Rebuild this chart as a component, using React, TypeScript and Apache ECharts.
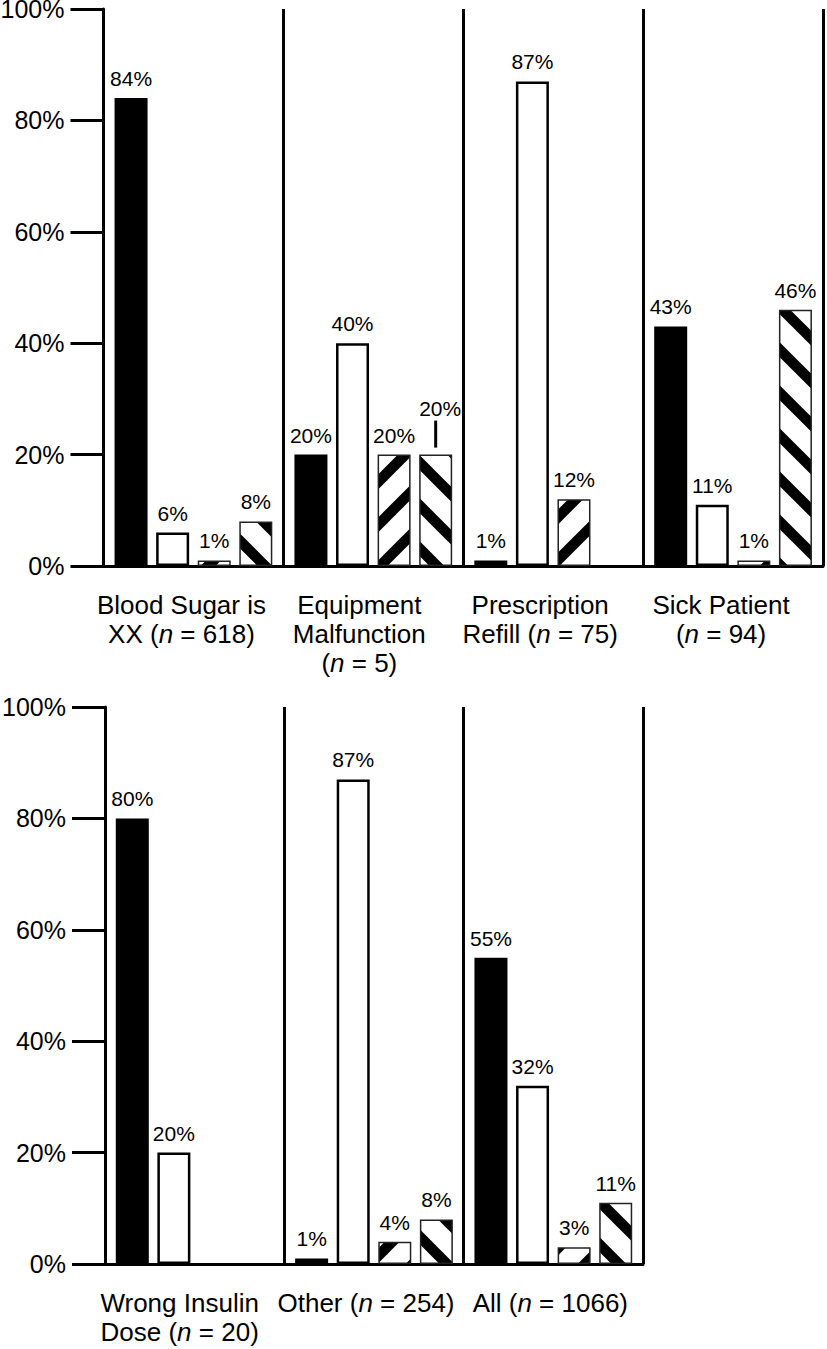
import React, { useEffect, useRef } from 'react';
import * as echarts from 'echarts';

// ---------- data ----------
const topCategories = [
  'Blood Sugar is\nXX ({i|n} = 618)',
  'Equipment\nMalfunction\n({i|n} = 5)',
  'Prescription\nRefill ({i|n} = 75)',
  'Sick Patient\n({i|n} = 94)',
];
const bottomCategories = [
  'Wrong Insulin\nDose ({i|n} = 20)',
  'Other ({i|n} = 254)',
  'All ({i|n} = 1066)',
];

const topSolid = [84, 20, 1, 43];
const topOpen = [6, 40, 87, 11];
const topForward = [1, 20, 12, 1];
const topBackward = [8, 20, null, 46];

const bottomSolid = [80, 1, 55];
const bottomOpen = [20, 87, 32];
const bottomForward = [null, 4, 3];
const bottomBackward = [null, 8, 11];

const yTicks = [0, 20, 40, 60, 80, 100];

// ---------- layout / style ----------
const FONT = '"Liberation Sans", Arial, Helvetica, sans-serif';
const topLabelShift = [-12, -14, -13, -12];
const bottomLabelShift = [-15, -8, -3];
// label lifted with a leader mark: [panel, series, index]
const raised = { panel: 0, series: 3, index: 1 };

function stripeTile(dir: 'fwd' | 'back') {
  const T = 43;
  const s = 10.5;
  const segs =
    dir === 'back'
      ? [
          [-T, -T, 2 * T, 2 * T],
          [-T, 0, T, 2 * T],
          [0, -T, 2 * T, T],
        ]
      : [
          [-T, 2 * T, 2 * T, -T],
          [-T, T, T, -T],
          [0, 2 * T, 2 * T, 0],
        ];
  const lines = segs
    .map(
      (l) =>
        `<line x1='${l[0]}' y1='${l[1]}' x2='${l[2]}' y2='${l[3]}' stroke='black' stroke-width='${s}'/>`
    )
    .join('');
  const svg = `<svg xmlns='http://www.w3.org/2000/svg' width='${T}' height='${T}'><rect width='${T}' height='${T}' fill='white'/>${lines}</svg>`;
  return {
    image: 'data:image/svg+xml;charset=utf-8,' + encodeURIComponent(svg),
    repeat: 'repeat',
    imageWidth: T,
    imageHeight: T,
  } as any;
}

export default function App() {
  const ref = useRef<HTMLDivElement>(null);

  useEffect(() => {
    document.body.style.margin = '0';
    if (!ref.current) return;
    const chart = echarts.init(ref.current, null, { renderer: 'svg' });

    const panels = [
      {
        cats: topCategories,
        shifts: topLabelShift,
        series: [topSolid, topOpen, topForward, topBackward],
        grid: { left: 103.5, top: 9, width: 719.5, height: 557 },
      },
      {
        cats: bottomCategories,
        shifts: bottomLabelShift,
        series: [bottomSolid, bottomOpen, bottomForward, bottomBackward],
        grid: { left: 105, top: 707, width: 538, height: 557 },
      },
    ];

    const styles = [
      { color: '#000', borderWidth: 0 },
      { color: '#fff', borderColor: '#000', borderWidth: 2.5 },
      { color: stripeTile('fwd'), borderColor: '#222', borderWidth: 1.5 },
      { color: stripeTile('back'), borderColor: '#222', borderWidth: 1.5 },
    ];

    const grids: any[] = [];
    const xAxes: any[] = [];
    const yAxes: any[] = [];
    const series: any[] = [];

    panels.forEach((p, g) => {
      grids.push({ ...p.grid, containLabel: false, outerBoundsMode: 'none' });
      xAxes.push({
        gridIndex: g,
        type: 'category',
        data: p.cats.map((c, i) => ({
          value: c,
          textStyle: { padding: [0, Math.max(0, -2 * p.shifts[i]), 0, 0] },
        })),
        axisLine: { show: true, lineStyle: { color: '#000', width: 3 } },
        axisTick: { show: false },
        splitLine: { show: true, lineStyle: { color: '#000', width: 3 } },
        axisLabel: {
          interval: 0,
          fontSize: 26,
          lineHeight: 29,
          color: '#000',
          margin: 24,
          fontFamily: FONT,
          rich: {
            i: { fontStyle: 'italic', fontSize: 26, lineHeight: 29, fontFamily: FONT, color: '#000' },
          },
        },
      });
      yAxes.push({
        gridIndex: g,
        type: 'value',
        min: yTicks[0],
        max: yTicks[yTicks.length - 1],
        interval: yTicks[1] - yTicks[0],
        axisLine: { show: true, lineStyle: { color: '#000', width: 3 } },
        axisTick: { show: true, length: 33, lineStyle: { color: '#000', width: 3 } },
        axisLabel: {
          formatter: '{value}%',
          fontSize: 25,
          color: '#000',
          margin: 39,
          fontFamily: FONT,
          padding: [10, 0, 0, 0],
        },
        splitLine: { show: false },
      });
      p.series.forEach((vals, k) => {
        series.push({
          type: 'bar',
          xAxisIndex: g,
          yAxisIndex: g,
          barWidth: 33,
          barGap: '26%',
          itemStyle: styles[k],
          label: {
            show: true,
            position: 'top',
            distance: 9,
            fontSize: 21,
            color: '#000',
            fontFamily: FONT,
            formatter: (prm: any) => (prm.value == null ? '' : prm.value + '%'),
          },
          data: vals.map((v, i) => {
            if (v == null) return null;
            if (g === raised.panel && k === raised.series && i === raised.index) {
              return {
                value: v,
                label: {
                  show: true,
                  position: 'top',
                  distance: 7,
                  formatter: `{t|${v}%}\n{l|}`,
                  rich: {
                    t: { fontSize: 21, lineHeight: 24, color: '#000', fontFamily: FONT, padding: [0, 0, 0, 9] },
                    l: { width: 3, height: 27, backgroundColor: '#000' },
                  },
                },
              };
            }
            return v;
          }),
        });
      });
    });

    chart.setOption({
      animation: false,
      backgroundColor: '#fff',
      textStyle: { fontFamily: FONT },
      grid: grids,
      xAxis: xAxes,
      yAxis: yAxes,
      series,
    });

    return () => chart.dispose();
  }, []);

  return (
    <div
      ref={ref}
      style={{ position: 'absolute', left: 0, top: 0, width: 827, height: 1349, background: '#fff' }}
    />
  );
}
